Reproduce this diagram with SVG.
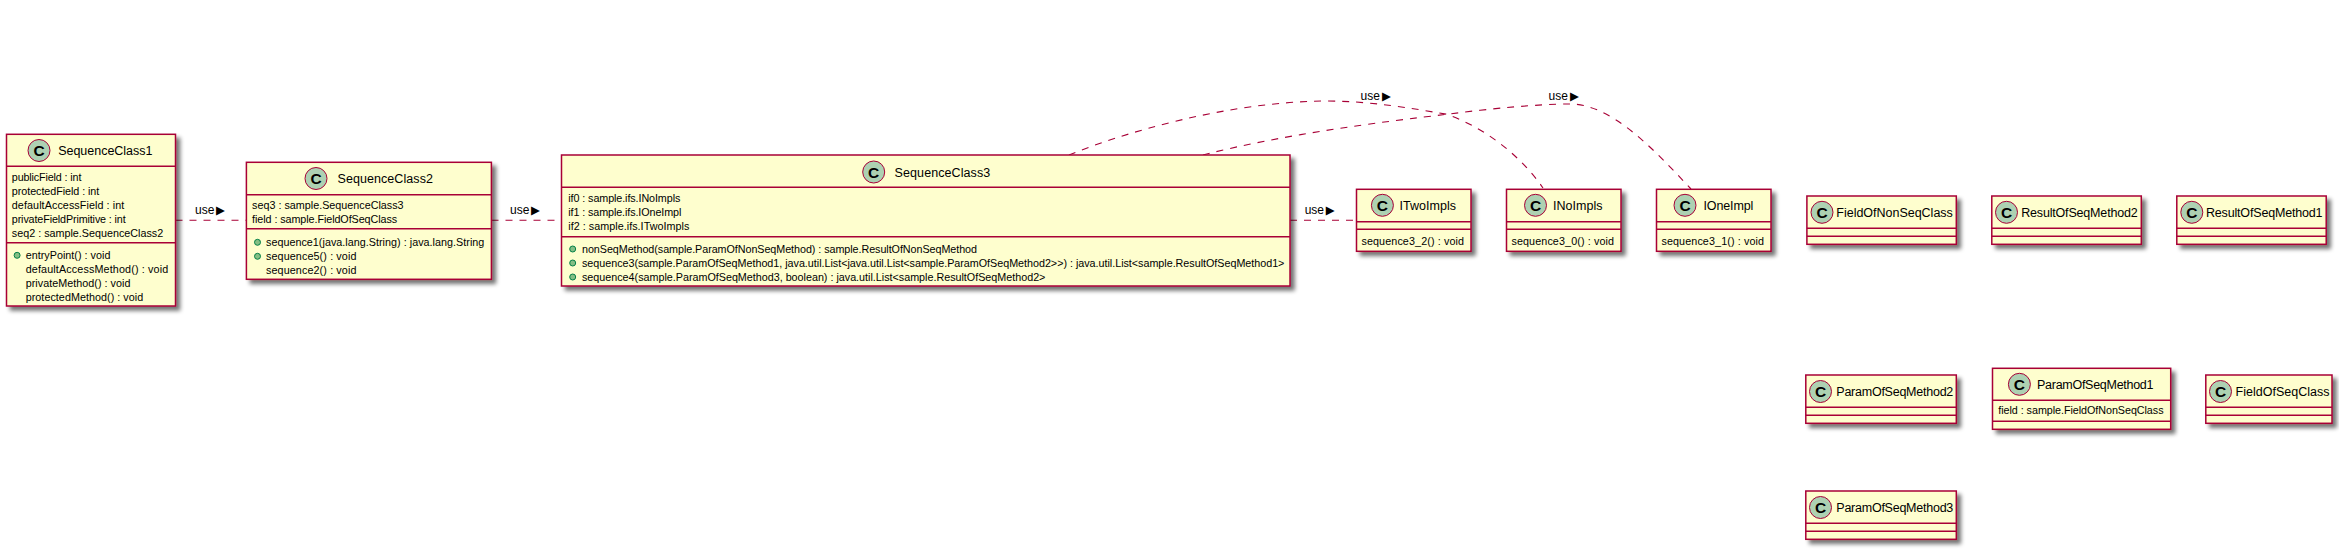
<svg xmlns="http://www.w3.org/2000/svg" width="2339" height="549" viewBox="0 0 2339 549">
<style>
text{font-family:"Liberation Sans",Arial,sans-serif;fill:#000;font-size:10.75px}
.t{font-size:12.5px}
.u{font-size:12px}
.a{font-family:"DejaVu Sans",sans-serif;font-size:11.5px}
.c{font-size:15.5px;font-weight:bold;text-anchor:middle}
.b{fill:#FEFECE;stroke:#A80036;stroke-width:1.5;filter:url(#s)}
.l{stroke:#A80036;stroke-width:1.5;fill:none}
.i{fill:#ADD1B2;stroke:#A80036;stroke-width:1}
.d{fill:#84BE84;stroke:#038048;stroke-width:1}
.e{fill:none;stroke:#A80036;stroke-width:1.1;stroke-dasharray:7,7}
</style>
<defs><filter id="s" x="-10%" y="-10%" width="125%" height="130%"><feGaussianBlur in="SourceAlpha" stdDeviation="2.2"/><feOffset dx="4" dy="4"/><feComponentTransfer><feFuncA type="linear" slope="0.55"/></feComponentTransfer><feMerge><feMergeNode/><feMergeNode in="SourceGraphic"/></feMerge></filter></defs>
<g id="connectors">
<path class="e" d="M175.5,220.3H246"/>
<path class="e" d="M491.5,220.3H561.5"/>
<path class="e" d="M1290,220.3H1356.5"/>
<path class="e" d="M1069,155C1120,134 1225,102 1325,101C1370,101 1410,108 1447,114.3C1485,128 1520,155 1543,188"/>
<path class="e" d="M1203,155C1280,135 1380,122 1447,114.3C1490,108.5 1540,104 1570,104C1610,104 1650,145 1691,189"/>
<text class="u" x="195" y="214">use<tspan class="a" x="216">▶</tspan></text>
<text class="u" x="510" y="214">use<tspan class="a" x="531">▶</tspan></text>
<text class="u" x="1304.7" y="214">use<tspan class="a" x="1325.7">▶</tspan></text>
<text class="u" x="1360.5" y="100">use<tspan class="a" x="1382">▶</tspan></text>
<text class="u" x="1548.5" y="100">use<tspan class="a" x="1570">▶</tspan></text>
</g>
<g id="SequenceClass1">
<rect class="b" x="6.5" y="134.3" width="169" height="171.7"/>
<path class="l" d="M6.5,166.3H175.5M6.5,242.7H175.5"/>
<circle class="i" cx="39" cy="150.5" r="11"/><text class="c" x="39" y="156">C</text>
<text class="t" x="58.2" y="155" textLength="94.2">SequenceClass1</text>
<text x="11.8" y="181" textLength="69.6">publicField : int</text>
<text x="11.8" y="195" textLength="87.5">protectedField : int</text>
<text x="11.8" y="209" textLength="112.5">defaultAccessField : int</text>
<text x="11.8" y="223" textLength="113.9">privateFieldPrimitive : int</text>
<text x="11.8" y="237" textLength="151.4">seq2 : sample.SequenceClass2</text>
<circle class="d" cx="17.1" cy="255.3" r="3"/>
<text x="25.7" y="259" textLength="84.7">entryPoint() : void</text>
<text x="25.7" y="273" textLength="142.5">defaultAccessMethod() : void</text>
<text x="25.7" y="287" textLength="104.7">privateMethod() : void</text>
<text x="25.7" y="301" textLength="117.5">protectedMethod() : void</text>
</g>
<g id="SequenceClass2">
<rect class="b" x="246.4" y="162.3" width="245" height="117"/>
<path class="l" d="M246.4,194.7H491.4M246.4,228.7H491.4"/>
<circle class="i" cx="316" cy="178.5" r="11"/><text class="c" x="316" y="184">C</text>
<text class="t" x="337.5" y="183" textLength="95.4">SequenceClass2</text>
<text x="252.1" y="209" textLength="151.5">seq3 : sample.SequenceClass3</text>
<text x="252.1" y="223" textLength="145">field : sample.FieldOfSeqClass</text>
<circle class="d" cx="257.5" cy="242.3" r="3"/><circle class="d" cx="257.5" cy="256.3" r="3"/>
<text x="266" y="245.5" textLength="218.3">sequence1(java.lang.String) : java.lang.String</text>
<text x="266" y="259.5" textLength="90.4">sequence5() : void</text>
<text x="266" y="273.5" textLength="90.4">sequence2() : void</text>
</g>
<g id="SequenceClass3">
<rect class="b" x="561.5" y="155" width="728.5" height="131"/>
<path class="l" d="M561.5,187.3H1290M561.5,236.7H1290"/>
<circle class="i" cx="873.7" cy="172" r="11"/><text class="c" x="873.7" y="177.5">C</text>
<text class="t" x="894.6" y="176.5" textLength="95.6">SequenceClass3</text>
<text x="568.3" y="202" textLength="112">if0 : sample.ifs.INoImpls</text>
<text x="568.3" y="216" textLength="113">if1 : sample.ifs.IOneImpl</text>
<text x="568.3" y="230" textLength="121">if2 : sample.ifs.ITwoImpls</text>
<circle class="d" cx="572.7" cy="249" r="3"/><circle class="d" cx="572.7" cy="263" r="3"/><circle class="d" cx="572.7" cy="277" r="3"/>
<text x="582" y="252.5" textLength="395">nonSeqMethod(sample.ParamOfNonSeqMethod) : sample.ResultOfNonSeqMethod</text>
<text x="582" y="266.5" textLength="702.4">sequence3(sample.ParamOfSeqMethod1, java.util.List&lt;java.util.List&lt;sample.ParamOfSeqMethod2&gt;&gt;) : java.util.List&lt;sample.ResultOfSeqMethod1&gt;</text>
<text x="582" y="280.5" textLength="463.4">sequence4(sample.ParamOfSeqMethod3, boolean) : java.util.List&lt;sample.ResultOfSeqMethod2&gt;</text>
</g>
<g id="ITwoImpls">
<rect class="b" x="1356.5" y="189.3" width="114.5" height="62"/>
<path class="l" d="M1356.5,221.7H1471M1356.5,229.3H1471"/>
<circle class="i" cx="1382.4" cy="205.3" r="11"/><text class="c" x="1382.4" y="210.8">C</text>
<text class="t" x="1399.4" y="210" textLength="56.7">ITwoImpls</text>
<text x="1361.4" y="245" textLength="102.7">sequence3_2() : void</text>
</g>
<g id="INoImpls">
<rect class="b" x="1506.5" y="189.3" width="114.5" height="62"/>
<path class="l" d="M1506.5,221.7H1621M1506.5,229.3H1621"/>
<circle class="i" cx="1535.5" cy="205.3" r="11"/><text class="c" x="1535.5" y="210.8">C</text>
<text class="t" x="1553" y="210" textLength="49.5">INoImpls</text>
<text x="1511.4" y="245" textLength="102.7">sequence3_0() : void</text>
</g>
<g id="IOneImpl">
<rect class="b" x="1656.5" y="189.3" width="114.5" height="62"/>
<path class="l" d="M1656.5,221.7H1771M1656.5,229.3H1771"/>
<circle class="i" cx="1685" cy="205.3" r="11"/><text class="c" x="1685" y="210.8">C</text>
<text class="t" x="1703.4" y="210" textLength="50">IOneImpl</text>
<text x="1661.4" y="245" textLength="102.7">sequence3_1() : void</text>
</g>
<g id="FieldOfNonSeqClass">
<rect class="b" x="1806.9" y="196" width="149.4" height="48.3"/>
<path class="l" d="M1806.9,228.3H1956.3M1806.9,236.3H1956.3"/>
<circle class="i" cx="1822" cy="212.3" r="11"/><text class="c" x="1822" y="217.8">C</text>
<text class="t" x="1836.3" y="217" textLength="116.5">FieldOfNonSeqClass</text>
</g>
<g id="ResultOfSeqMethod2">
<rect class="b" x="1991.8" y="196" width="149.5" height="48.3"/>
<path class="l" d="M1991.8,228.3H2141.3M1991.8,236.3H2141.3"/>
<circle class="i" cx="2006.5" cy="212.3" r="11"/><text class="c" x="2006.5" y="217.8">C</text>
<text class="t" x="2021.2" y="217" textLength="116.5">ResultOfSeqMethod2</text>
</g>
<g id="ResultOfSeqMethod1">
<rect class="b" x="2176.8" y="196" width="149.4" height="48.3"/>
<path class="l" d="M2176.8,228.3H2326.2M2176.8,236.3H2326.2"/>
<circle class="i" cx="2191.8" cy="212.3" r="11"/><text class="c" x="2191.8" y="217.8">C</text>
<text class="t" x="2206" y="217" textLength="116.5">ResultOfSeqMethod1</text>
</g>
<g id="ParamOfSeqMethod2">
<rect class="b" x="1805.8" y="375" width="150.5" height="48.3"/>
<path class="l" d="M1805.8,407.3H1956.3M1805.8,415.3H1956.3"/>
<circle class="i" cx="1820.5" cy="391.5" r="11"/><text class="c" x="1820.5" y="397">C</text>
<text class="t" x="1836.3" y="396" textLength="117">ParamOfSeqMethod2</text>
</g>
<g id="ParamOfSeqMethod1">
<rect class="b" x="1992.5" y="368.3" width="178.2" height="61"/>
<path class="l" d="M1992.5,400.3H2170.7M1992.5,421.3H2170.7"/>
<circle class="i" cx="2019.4" cy="384.3" r="11"/><text class="c" x="2019.4" y="389.8">C</text>
<text class="t" x="2037" y="389" textLength="116.5">ParamOfSeqMethod1</text>
<text x="1998.3" y="414.3" textLength="165.2">field : sample.FieldOfNonSeqClass</text>
</g>
<g id="FieldOfSeqClass">
<rect class="b" x="2205.8" y="375" width="126.2" height="48.3"/>
<path class="l" d="M2205.8,407.3H2332M2205.8,415.3H2332"/>
<circle class="i" cx="2220.5" cy="391.5" r="11"/><text class="c" x="2220.5" y="397">C</text>
<text class="t" x="2235.5" y="396" textLength="94">FieldOfSeqClass</text>
</g>
<g id="ParamOfSeqMethod3">
<rect class="b" x="1805.8" y="491" width="150.5" height="48.3"/>
<path class="l" d="M1805.8,523.3H1956.3M1805.8,531.3H1956.3"/>
<circle class="i" cx="1820.5" cy="507.5" r="11"/><text class="c" x="1820.5" y="513">C</text>
<text class="t" x="1836.3" y="512" textLength="117">ParamOfSeqMethod3</text>
</g>
</svg>
